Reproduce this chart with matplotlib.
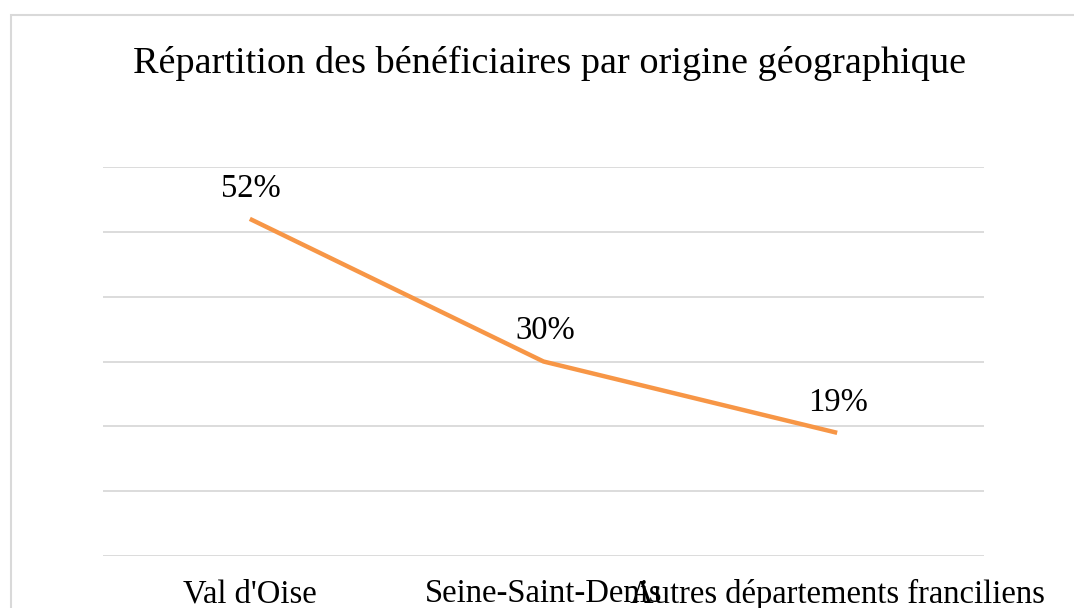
import matplotlib.pyplot as plt
from matplotlib.patches import Rectangle

categories = ["Val d'Oise", "Seine-Saint-Denis", "Autres départements franciliens"]
values = [52, 30, 19]
labels = ["52%", "30%", "19%"]

plt.rcParams['font.family'] = ['Liberation Serif', 'DejaVu Serif']

fig = plt.figure(figsize=(10.74, 6.08), dpi=100)
# light border around the chart area (cropped at right and bottom)
fig.patches.append(Rectangle((11 / 1074, -0.1), 1.2, 1 - 15 / 608 + 0.1,
                             transform=fig.transFigure, fill=False,
                             edgecolor='#d9d9d9', linewidth=1.5))

ax = fig.add_axes([103 / 1074, 1 - 556 / 608, (984 - 103) / 1074, (556 - 167) / 608])
x = list(range(len(categories)))
ax.plot(x, values, color='#f79646', linewidth=3.2, solid_capstyle='butt')
ax.set_xlim(-0.5, 2.5)
ax.set_ylim(0, 60)
ax.set_yticks(range(0, 70, 10))
ax.yaxis.grid(True, color='#d9d9d9', linewidth=1.3)
ax.set_axisbelow(True)
ax.tick_params(axis='y', left=False, labelleft=False)
ax.tick_params(axis='x', bottom=False, pad=13, labelsize=23.5)
ax.set_xticks(x)
ax.set_xticklabels(categories)
for s in ax.spines.values():
    s.set_visible(False)

# data labels above each point
for xi, v, lab in zip(x, values, labels):
    ax.annotate(lab, (xi, v), xytext=(1, 22), textcoords='offset points',
                ha='center', va='center', fontsize=23.5)

fig.text(550 / 1074, 1 - 63 / 608, "Répartition des bénéficiaires par origine géographique",
         ha='center', va='center', fontsize=27.5)

fig.savefig('out.png', dpi=100)
